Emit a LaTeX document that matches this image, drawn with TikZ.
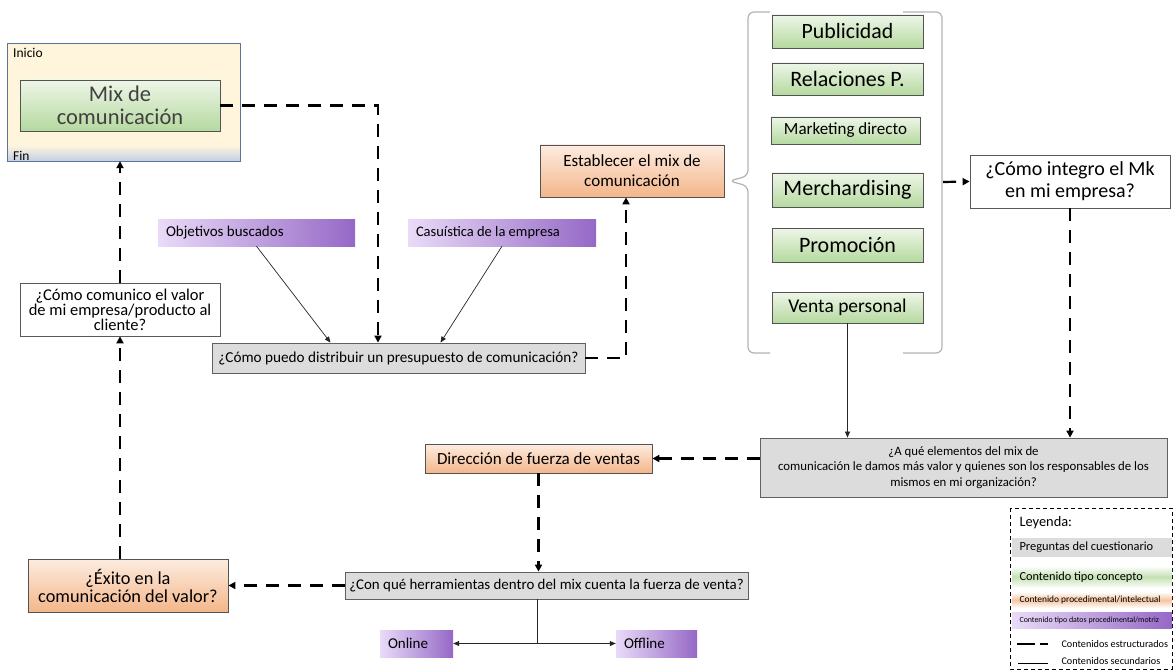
\documentclass[tikz,border=0pt]{standalone}
\usepackage{fontspec}
\setmainfont{Carlito}
\usetikzlibrary{arrows.meta}
\definecolor{cremaclaro}{HTML}{FEF5DC}
\definecolor{finazul}{HTML}{C3CFE8}
\definecolor{bordeazul}{HTML}{5E7397}
\definecolor{verdeclaro}{HTML}{EEF6E8}
\definecolor{verdeoscuro}{HTML}{B5D99F}
\definecolor{naranjaclaro}{HTML}{FDECE0}
\definecolor{naranjaoscuro}{HTML}{F4B68A}
\definecolor{moradoclaro}{HTML}{E9DBF8}
\definecolor{moradooscuro}{HTML}{9568C6}
\definecolor{grisfondo}{HTML}{DCDCDC}
\def\tam#1#2{\fontsize{#1}{#2}\selectfont}
\tikzset{
  caja/.style 2 args={minimum width=#1pt, minimum height=#2pt, inner sep=0pt, align=center},
  pregunta/.style={draw=gray!75!black, line width=0.8pt, fill=grisfondo},
  blanca/.style={draw=gray!70!black, line width=0.8pt, fill=white},
  concepto/.style={draw=gray!65!black, line width=0.8pt, top color=verdeclaro, bottom color=verdeoscuro},
  proced/.style={draw=gray!65!black, line width=0.8pt, top color=naranjaclaro, bottom color=naranjaoscuro},
  dato/.style={left color=moradoclaro, right color=moradooscuro, minimum height=27pt, inner xsep=8pt, inner ysep=0pt},
  estruct/.style={line width=2.2pt, dash pattern=on 13pt off 9pt, -{Triangle[length=7pt,width=7pt]}},
  secund/.style={line width=0.7pt, draw=gray!30!black, -{Triangle[length=6pt,width=5pt]}}
}

\begin{document}
\begin{tikzpicture}[x=1pt,y=-1pt]
\useasboundingbox (0,0) rectangle (1174,671);
% inicio / fin
\node[caja={232}{117}, fill=cremaclaro] (inicio) at (124,102.5) {};
\fill[top color=cremaclaro, bottom color=finazul] ([yshift=16pt]inicio.south west) rectangle (inicio.south east);
\draw[bordeazul, line width=1pt] (inicio.south west) rectangle (inicio.north east);
\node[anchor=north west, inner sep=0pt, font=\tam{13.5}{15}] (ini) at (13,48) {Inicio};
\node[anchor=south west, inner sep=0pt, font=\tam{13.5}{15}] (fin) at (13,161) {Fin};
\node[concepto, caja={200}{51}, font=\tam{22.5}{23}, text=black!75] (mix) at (120,105.5) {Mix de\\comunicación};

\node[dato, font=\tam{15}{16}] (objetivos) at (256.5,232.5) {\makebox[181pt][l]{Objetivos buscados}};
\node[dato, font=\tam{14.5}{16}] (casuistica) at (502,232.5) {\makebox[172pt][l]{Casuística de la empresa}};
\node[pregunta, caja={373}{30}, font=\tam{15.2}{17}] (presupuesto) at (398.5,358) {¿Cómo puedo distribuir un presupuesto de comunicación?};
\node[proced, caja={184}{52}, font=\tam{17}{20}] (establecer) at (632,171) {Establecer el mix de\\comunicación};

\node[concepto, caja={151}{33}, font=\tam{21.8}{23}] (publicidad) at (847.5,31.5) {Publicidad};
\node[concepto, caja={151}{32}, font=\tam{22}{23}] (relaciones) at (847.5,79) {Relaciones P.};
\node[concepto, caja={149}{27}, font=\tam{17}{18}] (marketing) at (845.5,130.5) {Marketing directo};
\node[concepto, caja={151}{34}, font=\tam{22}{24}] (merch) at (847.5,190) {Merchardising};
\node[concepto, caja={151}{34}, font=\tam{22}{24}] (promocion) at (847.5,245) {Promoción};
\node[concepto, caja={151}{31}, font=\tam{19.5}{21}] (venta) at (847.5,307.5) {Venta personal};
\draw[gray!60, line width=1.2pt, rounded corners=6pt] (770,12) -- (748,12) -- (748,176) -- (729,181) -- (748,186) -- (748,353) -- (770,353);
\draw[gray!60, line width=1.2pt, rounded corners=6pt] (903,12) -- (942,12) -- (942,353) -- (903,353);
\coordinate (llave) at (943,182);

\node[blanca, caja={200}{53}, font=\tam{20}{22}] (integro) at (1070,181.5) {¿Cómo integro el Mk\\en mi empresa?};
\node[pregunta, caja={407}{59}, font=\tam{12.8}{15.5}] (elementos) at (963.5,467.5) {¿A qué elementos del mix de\\comunicación le damos más valor y quienes son los responsables de los\\mismos en mi organización?};
\node[proced, caja={227}{29}, font=\tam{17}{19}] (direccion) at (538.5,458.5) {Dirección de fuerza de ventas};
\node[pregunta, caja={403}{27}, font=\tam{14.9}{17}] (conque) at (546.5,585.5) {¿Con qué herramientas dentro del mix cuenta la fuerza de venta?};
\node[dato, font=\tam{15}{16}] (online) at (416.5,643.5) {\makebox[57pt][l]{Online}};
\node[dato, font=\tam{15}{16}] (offline) at (656.5,643.5) {\makebox[65pt][l]{Offline}};
\node[proced, caja={200}{53}, font=\tam{18.3}{18}] (exito) at (128,585.5) {¿Éxito en la\\comunicación del valor?};
\node[blanca, caja={200}{53}, font=\tam{16.5}{15}] (comunico) at (120,309.5) {¿Cómo comunico el valor\\de mi empresa/producto al\\cliente?};

\draw[estruct] (mix.east) -| ([xshift=-20.5pt]presupuesto.north);
\draw[secund] (objetivos.south) -- ([xshift=-68pt]presupuesto.north);
\draw[secund] (casuistica.south) -- ([xshift=42pt]presupuesto.north);
\draw[estruct] (presupuesto.east) -| ([xshift=-6pt]establecer.south);
\draw[estruct] (llave) -- (integro.west);
\draw[estruct] (integro.south) -- (integro.south |- elementos.north);
\draw[secund] (venta.south) -- (venta.south |- elementos.north);
\draw[estruct] (elementos.west |- direccion.east) -- (direccion.east);
\draw[estruct] (direccion.south) -- (direccion.south |- conque.north);
\coordinate (reparto) at ([xshift=-9pt]conque.south |- online.east);
\draw[line width=0.7pt, gray!30!black] ([xshift=-9pt]conque.south) -- (reparto);
\draw[secund] (reparto) -- (online.east);
\draw[secund] (reparto) -- (offline.west);
\draw[estruct] (conque.west) -- (exito.east);
\draw[estruct] (comunico.south |- exito.north) -- (comunico.south);
\draw[estruct] (comunico.north) -- (comunico.north |- inicio.south);

% leyenda
\draw[line width=1pt, dash pattern=on 4pt off 3pt] (1010,508) rectangle (1172,669);
\node[anchor=west, font=\tam{14.4}{16}] (leyenda) at (1016,523) {Leyenda:};
\fill[grisfondo] (1012,538) rectangle (1172,557);
\node[anchor=west, font=\tam{12.4}{14}] (l1) at (1016,547.5) {Preguntas del cuestionario};
\fill[top color=white, bottom color=white, middle color=verdeoscuro!80] (1012,566) rectangle (1172,588);
\node[anchor=west, font=\tam{12.3}{14}] (l2) at (1016,577) {Contenido tipo concepto};
\fill[top color=white, bottom color=white, middle color=naranjaoscuro!80] (1012,592) rectangle (1172,608);
\node[anchor=west, font=\tam{9.4}{11}] (l3) at (1016,600) {Contenido procedimental/intelectual};
\fill[left color=moradoclaro, right color=moradooscuro] (1012,612) rectangle (1172,628);
\node[anchor=west, font=\tam{7.9}{9}] (l4) at (1016,620) {Contenido tipo datos procedimental/motriz};
\draw[line width=2.2pt, dash pattern=on 18pt off 5pt] (1017,644) -- (1048,644);
\node[anchor=west, font=\tam{10.2}{12}] (l5) at (1058,644) {Contenidos estructurados};
\draw[line width=0.7pt] (1018,663) -- (1048,663);
\node[anchor=west, font=\tam{10.2}{12}] (l6) at (1058,661) {Contenidos secundarios};
\end{tikzpicture}
\end{document}
